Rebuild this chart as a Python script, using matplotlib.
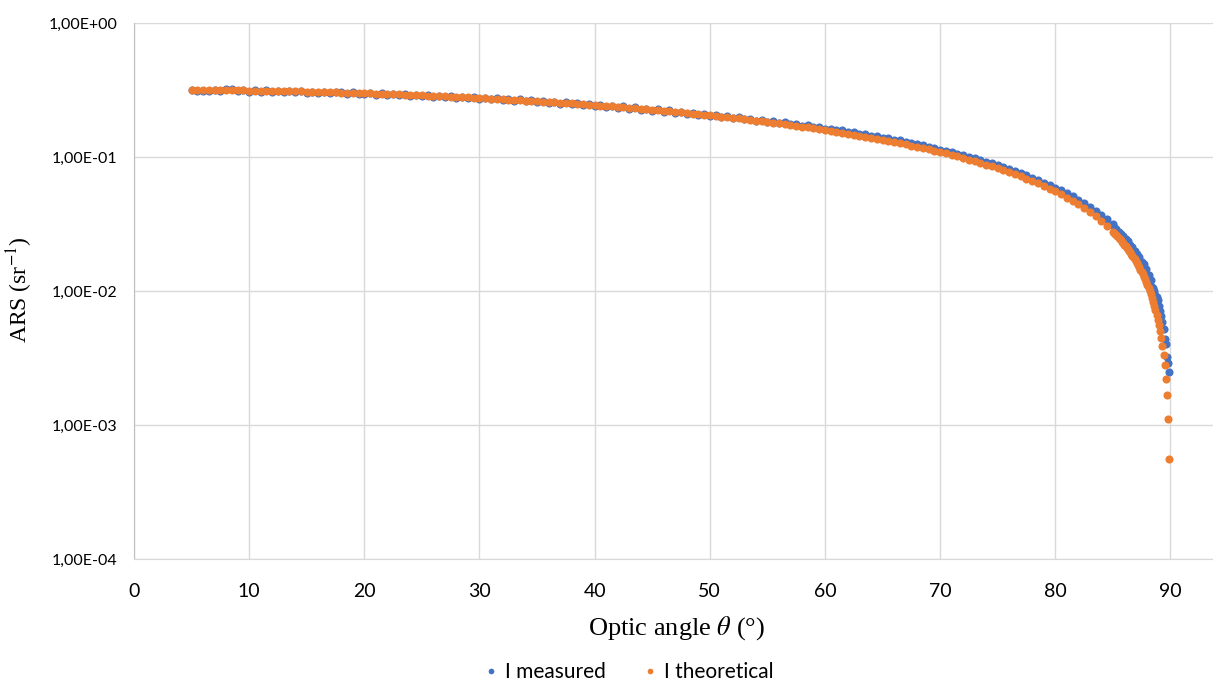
import matplotlib
matplotlib.use("Agg")
import matplotlib.pyplot as plt
from matplotlib.ticker import FixedLocator, NullLocator

# optic angle (deg), shared by both series
theta = [
    5.0, 5.5, 6.0, 6.5, 7.0, 7.5, 8.0, 8.5, 9.0, 9.5,
    10.0, 10.5, 11.0, 11.5, 12.0, 12.5, 13.0, 13.5, 14.0, 14.5,
    15.0, 15.5, 16.0, 16.5, 17.0, 17.5, 18.0, 18.5, 19.0, 19.5,
    20.0, 20.5, 21.0, 21.5, 22.0, 22.5, 23.0, 23.5, 24.0, 24.5,
    25.0, 25.5, 26.0, 26.5, 27.0, 27.5, 28.0, 28.5, 29.0, 29.5,
    30.0, 30.5, 31.0, 31.5, 32.0, 32.5, 33.0, 33.5, 34.0, 34.5,
    35.0, 35.5, 36.0, 36.5, 37.0, 37.5, 38.0, 38.5, 39.0, 39.5,
    40.0, 40.5, 41.0, 41.5, 42.0, 42.5, 43.0, 43.5, 44.0, 44.5,
    45.0, 45.5, 46.0, 46.5, 47.0, 47.5, 48.0, 48.5, 49.0, 49.5,
    50.0, 50.5, 51.0, 51.5, 52.0, 52.5, 53.0, 53.5, 54.0, 54.5,
    55.0, 55.5, 56.0, 56.5, 57.0, 57.5, 58.0, 58.5, 59.0, 59.5,
    60.0, 60.5, 61.0, 61.5, 62.0, 62.5, 63.0, 63.5, 64.0, 64.5,
    65.0, 65.5, 66.0, 66.5, 67.0, 67.5, 68.0, 68.5, 69.0, 69.5,
    70.0, 70.5, 71.0, 71.5, 72.0, 72.5, 73.0, 73.5, 74.0, 74.5,
    75.0, 75.5, 76.0, 76.5, 77.0, 77.5, 78.0, 78.5, 79.0, 79.5,
    80.0, 80.5, 81.0, 81.5, 82.0, 82.5, 83.0, 83.5, 84.0, 84.5,
    85.0, 85.1, 85.2, 85.3, 85.4, 85.5, 85.6, 85.7, 85.8, 85.9,
    86.0, 86.1, 86.2, 86.3, 86.4, 86.5, 86.6, 86.7, 86.8, 86.9,
    87.0, 87.1, 87.2, 87.3, 87.4, 87.5, 87.6, 87.7, 87.8, 87.9,
    88.0, 88.1, 88.2, 88.3, 88.4, 88.5, 88.6, 88.7, 88.8, 88.9,
    89.0, 89.1, 89.2, 89.3, 89.4, 89.5, 89.6, 89.7, 89.8, 89.9,
]

i_measured = [
    0.3150, 0.3105, 0.3120, 0.3098, 0.3172, 0.3110, 0.3190, 0.3205, 0.3095, 0.3160,
    0.3080, 0.3150, 0.3065, 0.3140, 0.3060, 0.3125, 0.3045, 0.3110, 0.3035, 0.3100,
    0.3020, 0.3050, 0.3010, 0.3070, 0.2990, 0.3060, 0.3045, 0.2965, 0.3040, 0.2950,
    0.2945, 0.3005, 0.2925, 0.2990, 0.2905, 0.2960, 0.2885, 0.2940, 0.2870, 0.2915,
    0.2840, 0.2900, 0.2820, 0.2875, 0.2795, 0.2855, 0.2770, 0.2825, 0.2745, 0.2800,
    0.2725, 0.2775, 0.2690, 0.2745, 0.2660, 0.2715, 0.2635, 0.2690, 0.2600, 0.2660,
    0.2570, 0.2625, 0.2540, 0.2595, 0.2505, 0.2560, 0.2470, 0.2530, 0.2440, 0.2495,
    0.2405, 0.2455, 0.2370, 0.2420, 0.2330, 0.2385, 0.2295, 0.2345, 0.2255, 0.2300,
    0.2215, 0.2265, 0.2180, 0.2225, 0.2140, 0.2185, 0.2100, 0.2145, 0.2060, 0.2100,
    0.2020, 0.2060, 0.1985, 0.2015, 0.1945, 0.1975, 0.1905, 0.1930, 0.1870, 0.1890,
    0.1830, 0.1850, 0.1790, 0.1810, 0.1750, 0.1765, 0.1710, 0.1720, 0.1665, 0.1675,
    0.1625, 0.1630, 0.1580, 0.1585, 0.1535, 0.1535, 0.1490, 0.1485, 0.1440, 0.1435,
    0.1390, 0.1380, 0.1340, 0.1330, 0.1290, 0.1275, 0.1240, 0.1220, 0.1190, 0.1165,
    0.1135, 0.1115, 0.1085, 0.1060, 0.1030, 0.1005, 0.0975, 0.0950, 0.0920, 0.0895,
    0.0865, 0.0840, 0.0810, 0.0785, 0.0755, 0.0730, 0.0700, 0.0675, 0.0645, 0.0620,
    0.0590, 0.0565, 0.0535, 0.0510, 0.0480, 0.0452, 0.0425, 0.0398, 0.0368, 0.0342,
    0.0315, 0.0300, 0.0290, 0.0288, 0.0276, 0.0275, 0.0262, 0.0266, 0.0250, 0.0256,
    0.0240, 0.0244, 0.0228, 0.0236, 0.0218, 0.0222, 0.0206, 0.0212, 0.0196, 0.0200,
    0.0184, 0.0190, 0.0172, 0.0178, 0.0162, 0.0165, 0.0151, 0.0158, 0.0140, 0.0146,
    0.0128, 0.0132, 0.0118, 0.0121, 0.0108, 0.0106, 0.0100, 0.0094, 0.0090, 0.0086,
    0.0077, 0.0071, 0.0065, 0.0059, 0.0052, 0.0044, 0.0040, 0.0032, 0.0029, 0.0025,
]

i_theoretical = [
    0.3171, 0.3168, 0.3166, 0.3163, 0.3159, 0.3156, 0.3152, 0.3148, 0.3144, 0.3139,
    0.3135, 0.3130, 0.3125, 0.3119, 0.3114, 0.3108, 0.3102, 0.3095, 0.3089, 0.3082,
    0.3075, 0.3067, 0.3060, 0.3052, 0.3044, 0.3036, 0.3027, 0.3019, 0.3010, 0.3001,
    0.2991, 0.2982, 0.2972, 0.2962, 0.2951, 0.2941, 0.2930, 0.2919, 0.2908, 0.2897,
    0.2885, 0.2873, 0.2861, 0.2849, 0.2836, 0.2823, 0.2811, 0.2797, 0.2784, 0.2770,
    0.2757, 0.2743, 0.2728, 0.2714, 0.2699, 0.2685, 0.2670, 0.2654, 0.2639, 0.2623,
    0.2607, 0.2591, 0.2575, 0.2559, 0.2542, 0.2525, 0.2508, 0.2491, 0.2474, 0.2456,
    0.2438, 0.2420, 0.2402, 0.2384, 0.2365, 0.2347, 0.2328, 0.2309, 0.2290, 0.2270,
    0.2251, 0.2231, 0.2211, 0.2191, 0.2171, 0.2150, 0.2130, 0.2109, 0.2088, 0.2067,
    0.2046, 0.2025, 0.2003, 0.1981, 0.1960, 0.1938, 0.1916, 0.1893, 0.1871, 0.1848,
    0.1826, 0.1803, 0.1780, 0.1757, 0.1734, 0.1710, 0.1687, 0.1663, 0.1639, 0.1616,
    0.1592, 0.1567, 0.1543, 0.1519, 0.1494, 0.1470, 0.1445, 0.1420, 0.1395, 0.1370,
    0.1345, 0.1320, 0.1295, 0.1269, 0.1244, 0.1218, 0.1192, 0.1167, 0.1141, 0.1115,
    0.1089, 0.1063, 0.1036, 0.1010, 0.0984, 0.0957, 0.0931, 0.0904, 0.0877, 0.0851,
    0.0824, 0.0797, 0.0770, 0.0743, 0.0716, 0.0689, 0.0662, 0.0635, 0.0607, 0.0580,
    0.0553, 0.0525, 0.0498, 0.0470, 0.0443, 0.0415, 0.0388, 0.0360, 0.0333, 0.0305,
    0.0277, 0.02722, 0.02667, 0.02611, 0.02556, 0.02500, 0.02444, 0.02389, 0.02333, 0.02278,
    0.02222, 0.02167, 0.02111, 0.02056, 0.02000, 0.01944, 0.01889, 0.01833, 0.01778, 0.01722,
    0.01667, 0.01611, 0.01556, 0.01500, 0.01444, 0.01389, 0.01333, 0.01278, 0.01222, 0.01167,
    0.01111, 0.01056, 0.01000, 0.00944, 0.00889, 0.00833, 0.00778, 0.00722, 0.00667, 0.00611,
    0.00556, 0.00500, 0.00444, 0.00389, 0.00333, 0.00278, 0.00222, 0.00167, 0.00111, 0.00056,
]

x_ticks = [0, 10, 20, 30, 40, 50, 60, 70, 80, 90]
y_ticks = [1e-4, 1e-3, 1e-2, 1e-1, 1e0]
y_tick_labels = ["1,00E-04", "1,00E-03", "1,00E-02", "1,00E-01", "1,00E+00"]

blue = "#4472C4"
orange = "#ED7D31"
grid_col = "#D9D9D9"

plt.rcParams["mathtext.fontset"] = "stix"

fig = plt.figure(figsize=(12.13, 6.82), dpi=100)
W, H = 1213, 682
ax = fig.add_axes([134 / W, 123 / H, 1094 / W, 536 / H])

ax.scatter(theta, i_measured, s=34, color=blue, linewidths=0, label="I measured", zorder=3)
ax.scatter(theta, i_theoretical, s=34, color=orange, linewidths=0, label="I theoretical", zorder=4)

ax.set_yscale("log")
ax.set_ylim(1e-4, 1)
ax.set_xlim(0, 95)

ax.yaxis.set_major_locator(FixedLocator(y_ticks))
ax.yaxis.set_minor_locator(NullLocator())
ax.set_yticklabels(y_tick_labels, fontfamily="Lato", fontsize=11.5)
ax.set_xticks(x_ticks)
ax.set_xticklabels([str(t) for t in x_ticks], fontfamily="Lato", fontsize=14)
ax.tick_params(axis="both", length=0)
ax.tick_params(axis="y", pad=12)
ax.tick_params(axis="x", pad=17)

ax.grid(True, color=grid_col, linewidth=1)
ax.set_axisbelow(True)
for side in ["top", "right"]:
    ax.spines[side].set_visible(False)
ax.spines["left"].set_color("#BFBFBF")
ax.spines["bottom"].set_color(grid_col)

# axis titles placed where the reference has them
fig.text(677 / W, 1 - 628 / H, r"Optic angle $\theta$ (°)", fontfamily="Liberation Serif",
         fontsize=19, ha="center", va="center")
fig.text(20 / W, 1 - 290 / H, r"ARS (sr$^{-1}$)", fontfamily="Liberation Serif",
         fontsize=17, ha="center", va="center", rotation=90)

leg = fig.legend(loc="center", bbox_to_anchor=(627 / W, 1 - 672 / H), ncol=2, frameon=False,
                 prop={"family": "Lato", "size": 15}, handlelength=1.0, handletextpad=0.2,
                 columnspacing=1.6, markerscale=0.7, scatterpoints=1, scatteryoffsets=[0.5])

fig.savefig("out.png", dpi=100)
